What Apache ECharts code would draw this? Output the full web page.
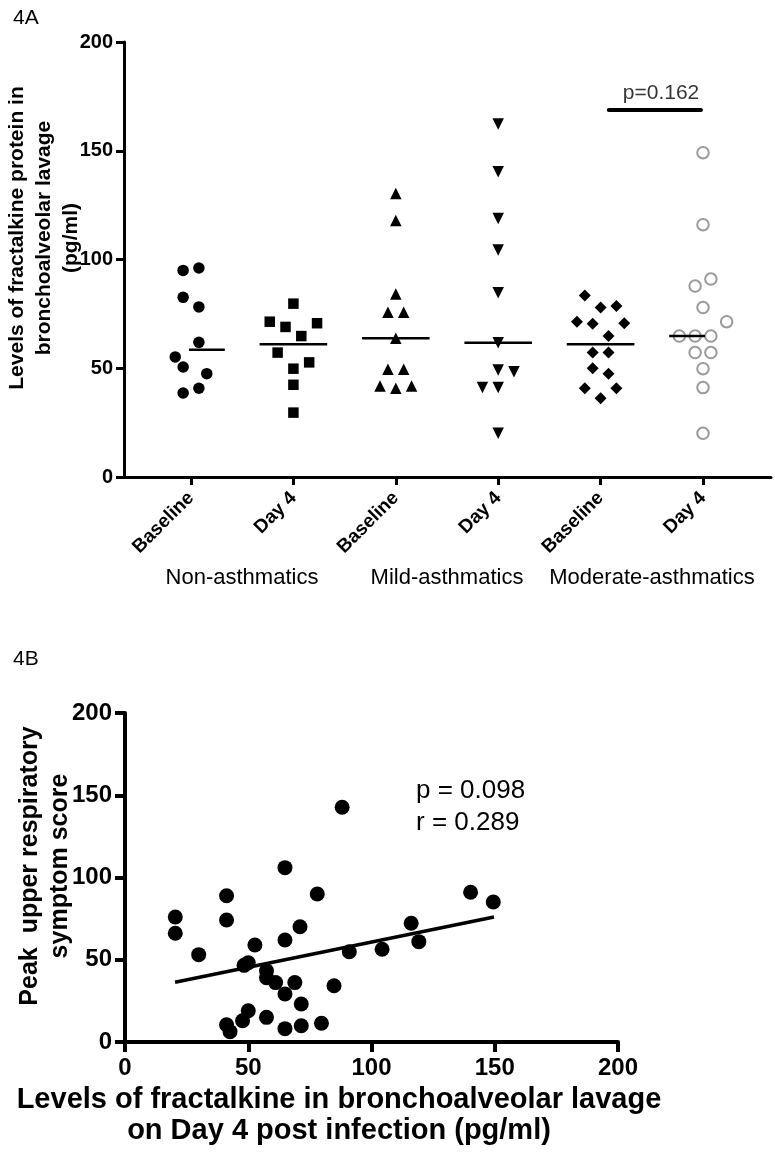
<!DOCTYPE html>
<html><head><meta charset="utf-8">
<script src="https://cdn.jsdelivr.net/npm/echarts@6/dist/echarts.min.js"></script>
<style>html,body{margin:0;padding:0;background:#fff}#c{width:775px;height:1162px}</style>
</head><body><div id="c"></div><script>
const FONT = '"Liberation Sans", Arial, Helvetica, sans-serif';

// ---------- Panel 4A ----------
const timeLabels = ['Baseline', 'Day 4', 'Baseline', 'Day 4', 'Baseline', 'Day 4'];
const groupLabels = ['Non-asthmatics', 'Mild-asthmatics', 'Moderate-asthmatics'];
const yTicksA = [0, 50, 100, 150, 200];

const nonBase      = [95.0, 96.1, 82.6, 78.2, 61.9, 55.2, 50.6, 47.5, 40.8, 38.6];
const nonBaseSlot  = [-1, 1, -1, 1, 1, -2, -1, 2, 1, -1];
const nonDay4      = [79.7, 71.4, 70.7, 69.0, 64.8, 57.2, 52.7, 49.8, 42.4, 29.6];
const nonDay4Slot  = [0, -3, 3, -1, 1, -2, 2, 0, 0, 0];
const mildBase     = [130.4, 117.9, 84.1, 75.7, 75.7, 63.8, 49.5, 49.5, 41.8, 40.8, 41.8];
const mildBaseSlot = [0, 0, 0, -1, 1, 0, -1, 1, -2, 0, 2];
const mildDay4     = [162.3, 140.4, 118.9, 104.4, 84.7, 61.7, 49.2, 48.4, 41.2, 41.2, 20.1];
const mildDay4Slot = [0, 0, 0, 0, 0, 0, 0, 2, -2, 0, 0];
const modBase      = [83.5, 77.9, 78.6, 71.4, 70.5, 70.7, 64.8, 57.2, 57.2, 50.0, 47.5, 40.8, 40.8, 36.2];
const modBaseSlot  = [-2, 0, 2, -3, -1, 3, 1, -1, 1, -1, 1, -2, 2, 0];
const modDay4      = [149.1, 116.0, 91.0, 87.8, 77.9, 71.4, 64.8, 64.8, 64.8, 57.2, 57.2, 49.8, 41.1, 20.1];
const modDay4Slot  = [0, 0, 1, -1, 0, 3, -3, -1, 1, -1, 1, 0, 0, 0];

const bracketX = [4.08, 4.98];
const bracketY = 168.7;
const bracketText = 'p=0.162';

// ---------- Panel 4B ----------
const xTicksB = [0, 50, 100, 150, 200];
const fracX = [88.1, 64.9, 41.2, 78.0, 140.2, 149.4, 20.4, 41.2, 20.4, 71.0, 116.1, 64.9, 119.2, 52.7, 29.9, 91.0, 104.3,
               50.0, 48.3, 57.4, 57.4, 61.1, 68.9, 84.8, 64.9, 71.5, 50.0, 47.7, 57.4, 41.2, 42.6, 64.9, 71.5, 79.7];
const symptomY = [142.7, 106.0, 88.9, 90.0, 91.0, 85.1, 76.0, 74.2, 66.1, 70.1, 72.2, 62.0, 61.0, 59.0, 53.1, 54.9, 56.4,
               48.2, 46.6, 43.3, 39.1, 36.1, 36.1, 34.2, 29.2, 23.1, 19.0, 12.9, 15.0, 10.5, 6.3, 8.1, 9.9, 11.4];
const fitX = [20.3, 149.7];
const fitY = [36.3, 76.0];
const statText = ['p = 0.098', 'r = 0.289'];

// ---------- build ----------
const SLOT = 0.077;
const HALF = 0.33;
const columns = [
  {v: nonBase,  s: nonBaseSlot,  sym: 'circle',   size: 11.5, rot: 0},
  {v: nonDay4,  s: nonDay4Slot,  sym: 'rect',     size: 10.5, rot: 0},
  {v: mildBase, s: mildBaseSlot, sym: 'triangle', size: 11.5, rot: 0},
  {v: mildDay4, s: mildDay4Slot, sym: 'triangle', size: 11.5, rot: 180},
  {v: modBase,  s: modBaseSlot,  sym: 'diamond',  size: 12, rot: 0},
  {v: modDay4,  s: modDay4Slot,  sym: 'circle',   size: 11.5, rot: 0, open: true}
];
function median(a) {
  const s = a.slice().sort((p, q) => p - q), n = s.length;
  return n % 2 ? s[(n - 1) / 2] : (s[n / 2 - 1] + s[n / 2]) / 2;
}

const series = [];
columns.forEach((c, i) => {
  series.push({
    type: 'scatter', xAxisIndex: 1, yAxisIndex: 1, clip: false,
    symbol: c.sym, symbolSize: c.size, symbolRotate: c.rot,
    itemStyle: c.open ? {color: '#fff', borderColor: '#9a9a9a', borderWidth: 2, opacity: 1} : {color: '#000', opacity: 1},
    data: c.v.map((y, k) => [i + c.s[k] * SLOT, y]), z: 3
  });
});
columns.forEach((c, i) => {
  const m = median(c.v);
  series.push({
    type: 'line', xAxisIndex: 1, yAxisIndex: 1, clip: false, symbol: 'none',
    lineStyle: {color: '#000', width: 2.5}, data: [[i - HALF, m], [i + HALF, m]], z: 4
  });
});
series.push({
  type: 'line', xAxisIndex: 1, yAxisIndex: 1, clip: false, symbol: 'none',
  lineStyle: {color: '#000', width: 4, cap: 'round'},
  data: [[bracketX[0], bracketY], [bracketX[1], bracketY]]
});
series.push({
  type: 'scatter', xAxisIndex: 1, yAxisIndex: 1, clip: false, symbolSize: 0,
  data: [[(bracketX[0] + bracketX[1]) / 2 + 0.06, bracketY]],
  label: {show: true, position: 'top', distance: 6, formatter: bracketText, color: '#000', fontSize: 21, fontFamily: FONT}
});
series.push({
  type: 'scatter', xAxisIndex: 2, yAxisIndex: 2, symbol: 'circle', symbolSize: 15,
  itemStyle: {color: '#000', opacity: 1}, data: fracX.map((x, k) => [x, symptomY[k]]), z: 3
});
series.push({
  type: 'line', xAxisIndex: 2, yAxisIndex: 2, symbol: 'none',
  lineStyle: {color: '#000', width: 3.5}, data: [[fitX[0], fitY[0]], [fitX[1], fitY[1]]], z: 4
});

const hidden = {show: false};
const centered = {align: 'center', verticalAlign: 'middle', textAlign: 'center', textVerticalAlign: 'middle', fill: '#000'};
const option = {
  backgroundColor: '#fff',
  animation: false,
  textStyle: {fontFamily: FONT},
  grid: [
    {left: 124, top: 42, width: 647, height: 435, outerBoundsMode: 'none'},
    {left: 191, top: 42, width: 512, height: 435, outerBoundsMode: 'none'},
    {left: 125, top: 713, width: 493, height: 329, outerBoundsMode: 'none'}
  ],
  xAxis: [
    {gridIndex: 0, type: 'value', min: 0, max: 1, axisLine: {lineStyle: {color: '#000', width: 3}},
     axisTick: hidden, axisLabel: hidden, splitLine: hidden},
    {gridIndex: 1, type: 'value', min: 0, max: 5, interval: 1, axisLine: hidden,
     axisTick: {show: true, length: 8, lineStyle: {color: '#000', width: 3}},
     axisLabel: {rotate: 45, margin: 18, fontSize: 19, fontWeight: 'bold', color: '#000', fontFamily: FONT,
                 formatter: v => timeLabels[Math.round(v)]},
     splitLine: hidden},
    {gridIndex: 2, type: 'value', min: 0, max: 200, interval: 50,
     axisLine: {lineStyle: {color: '#000', width: 4}},
     axisTick: {length: 10, lineStyle: {color: '#000', width: 4}},
     axisLabel: {margin: 14, fontSize: 24, fontWeight: 'bold', color: '#000', fontFamily: FONT,
                 formatter: v => xTicksB.includes(v) ? String(v) : ''},
     splitLine: hidden}
  ],
  yAxis: [
    {gridIndex: 0, type: 'value', min: 0, max: 200, interval: 50,
     axisLine: {show: true, lineStyle: {color: '#000', width: 3}},
     axisTick: {show: true, length: 8, lineStyle: {color: '#000', width: 3}},
     axisLabel: {margin: 11, fontSize: 20, fontWeight: 'bold', color: '#000', fontFamily: FONT,
                 formatter: v => yTicksA.includes(v) ? String(v) : ''},
     splitLine: hidden},
    {gridIndex: 1, type: 'value', min: 0, max: 200, show: false},
    {gridIndex: 2, type: 'value', min: 0, max: 200, interval: 50,
     axisLine: {show: true, lineStyle: {color: '#000', width: 4}},
     axisTick: {show: true, length: 10, lineStyle: {color: '#000', width: 4}},
     axisLabel: {margin: 13, fontSize: 24, fontWeight: 'bold', color: '#000', fontFamily: FONT},
     splitLine: hidden}
  ],
  graphic: [
    {type: 'text', x: 13, y: 8, style: {text: '4A', font: '21px ' + FONT, fill: '#000'}},
    {type: 'text', x: 13, y: 649, style: {text: '4B', font: '21px ' + FONT, fill: '#000'}},
    {type: 'text', x: 44, y: 238, rotation: Math.PI / 2,
     style: Object.assign({text: 'Levels of fractalkine protein in\nbronchoalveolar lavage\n(pg/ml)', font: 'bold 21px ' + FONT, lineHeight: 27}, centered)},
    {type: 'text', x: 242, y: 578, style: Object.assign({text: groupLabels[0], font: '22px ' + FONT}, centered)},
    {type: 'text', x: 447, y: 578, style: Object.assign({text: groupLabels[1], font: '22px ' + FONT}, centered)},
    {type: 'text', x: 652, y: 578, style: Object.assign({text: groupLabels[2], font: '22px ' + FONT}, centered)},
    {type: 'text', x: 45, y: 866, rotation: Math.PI / 2,
     style: Object.assign({text: 'Peak  upper respiratory\nsymptom score', font: 'bold 25px ' + FONT, lineHeight: 30}, centered)},
    {type: 'text', x: 339, y: 1115,
     style: Object.assign({text: 'Levels of fractalkine in bronchoalveolar lavage\non Day 4 post infection (pg/ml)', font: 'bold 29px ' + FONT, lineHeight: 31}, centered)},
    {type: 'text', x: 416, y: 807,
     style: {text: statText.join('\n'), font: '26px ' + FONT, lineHeight: 32, fill: '#000', align: 'left', verticalAlign: 'middle', textAlign: 'left', textVerticalAlign: 'middle'}}
  ],
  series: series
};
const chart = echarts.init(document.getElementById('c'), null, {renderer: 'canvas'});
chart.setOption(option);
</script></body></html>
